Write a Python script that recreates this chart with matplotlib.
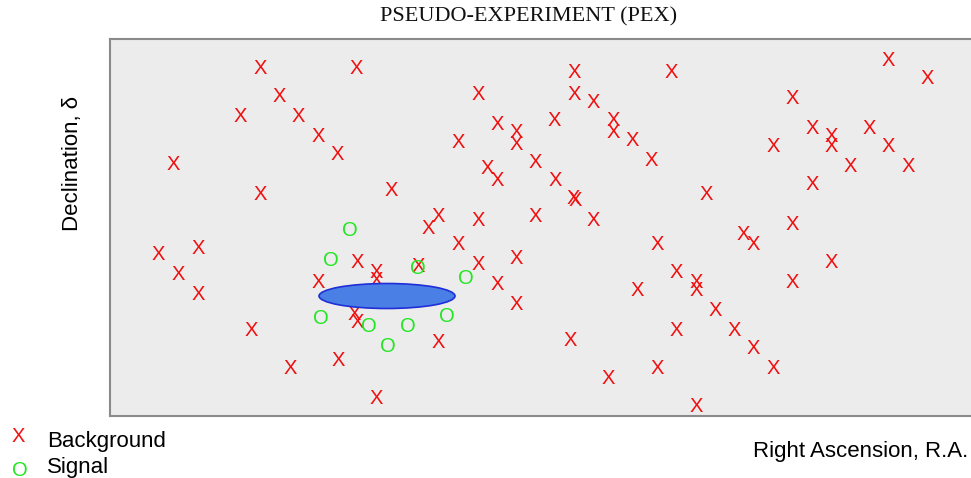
import matplotlib.pyplot as plt
from matplotlib.patches import Ellipse
from matplotlib.transforms import offset_copy

# background events (right ascension, declination) in arbitrary sky units
bkg_ra = [150, 246, 464, 561, 778, 817, 169, 368, 464, 483, 682, 130, 188, 387,
          406, 406, 444, 503, 503, 702, 721, 721, 759, 208, 227, 348, 522, 541,
          663, 778, 63, 425, 377, 387, 445, 740, 798, 150, 281, 463, 465, 596,
          702, 328, 318, 368, 425, 483, 682, 633, 643, 48, 88, 68, 88, 348, 406,
          547, 368, 247, 266, 266, 208, 308, 387, 406, 566, 586, 586, 527, 682,
          721, 244, 247, 141, 328, 460, 566, 605, 624, 643, 663, 180, 228, 266,
          498, 547, 586]
bkg_dec = [349, 349, 345, 345, 358, 339, 321, 324, 324, 316, 320, 301, 301, 294,
           286, 274, 297, 298, 286, 290, 281, 271, 290, 282, 263, 275, 278, 258,
           271, 271, 253, 256, 249, 237, 237, 251, 251, 224, 227, 220, 217, 223,
           233, 202, 189, 198, 201, 198, 194, 184, 174, 163, 169, 143, 123, 173,
           159, 174, 153, 155, 146, 138, 136, 151, 133, 114, 146, 136, 127, 127,
           136, 155, 103, 96, 88, 75, 78, 88, 108, 88, 69, 49, 49, 58, 20, 40,
           49, 11]

# signal events
sig_ra = [240, 221, 308, 356, 211, 259, 298, 337, 278]
sig_dec = [187, 158, 149, 139, 100, 91, 91, 101, 71]

# source region
src_ra, src_dec = 277, 120
src_w, src_h = 136, 25

RA_MAX, DEC_MAX = 865, 377

fig = plt.figure(figsize=(9.71, 4.78), dpi=100)
ax = fig.add_axes([110 / 971, 62 / 478, 865 / 971, 377 / 478])
ax.set_facecolor('#ececec')
ax.set_xlim(0, RA_MAX)
ax.set_ylim(0, DEC_MAX)
ax.set_xticks([])
ax.set_yticks([])
for s in ax.spines.values():
    s.set_color('#8a8a8a')
    s.set_linewidth(1.5)

# glyph markers, nudged down so the letter itself sits on the point
glyph_tr = offset_copy(ax.transData, fig=fig, y=-2, units='dots')
mk_font = dict(family='Liberation Sans', fontsize=14.5, ha='center', va='center')
for x, y in zip(bkg_ra, bkg_dec):
    ax.text(x, y, 'X', color='#f01010', transform=glyph_tr, **mk_font)

ax.add_patch(Ellipse((src_ra, src_dec), src_w, src_h, facecolor='#4a7fe6',
                     edgecolor='#1f2fd8', linewidth=1.2, zorder=3))

for x, y in zip(sig_ra, sig_dec):
    ax.text(x, y, 'O', color='#22e622', zorder=4, transform=glyph_tr, **mk_font)

fig.text(529 / 971, 1 - 17 / 478, 'PSEUDO-EXPERIMENT (PEX)', family='Liberation Serif',
         fontsize=16, ha='center', va='center', color='#111111')
fig.text(72 / 971, 1 - 163 / 478, 'Declination, δ', family='Liberation Sans',
         fontsize=16, rotation=90, ha='center', va='center')
fig.text(968 / 971, 1 - 452 / 478, 'Right Ascension, R.A.', family='Liberation Sans',
         fontsize=16, ha='right', va='center')

# legend
fig.text(18 / 971, 1 - 436 / 478, 'X', color='#f01010', family='Liberation Sans',
         fontsize=14.5, ha='center', va='center')
fig.text(47 / 971, 1 - 441 / 478, 'Background', family='Liberation Sans',
         fontsize=16, ha='left', va='center')
fig.text(20 / 971, 1 - 470 / 478, 'O', color='#22e622', family='Liberation Sans',
         fontsize=14.5, ha='center', va='center')
fig.text(47 / 971, 1 - 467 / 478, 'Signal', family='Liberation Sans',
         fontsize=16, ha='left', va='center')

fig.savefig('out.png', dpi=100)
